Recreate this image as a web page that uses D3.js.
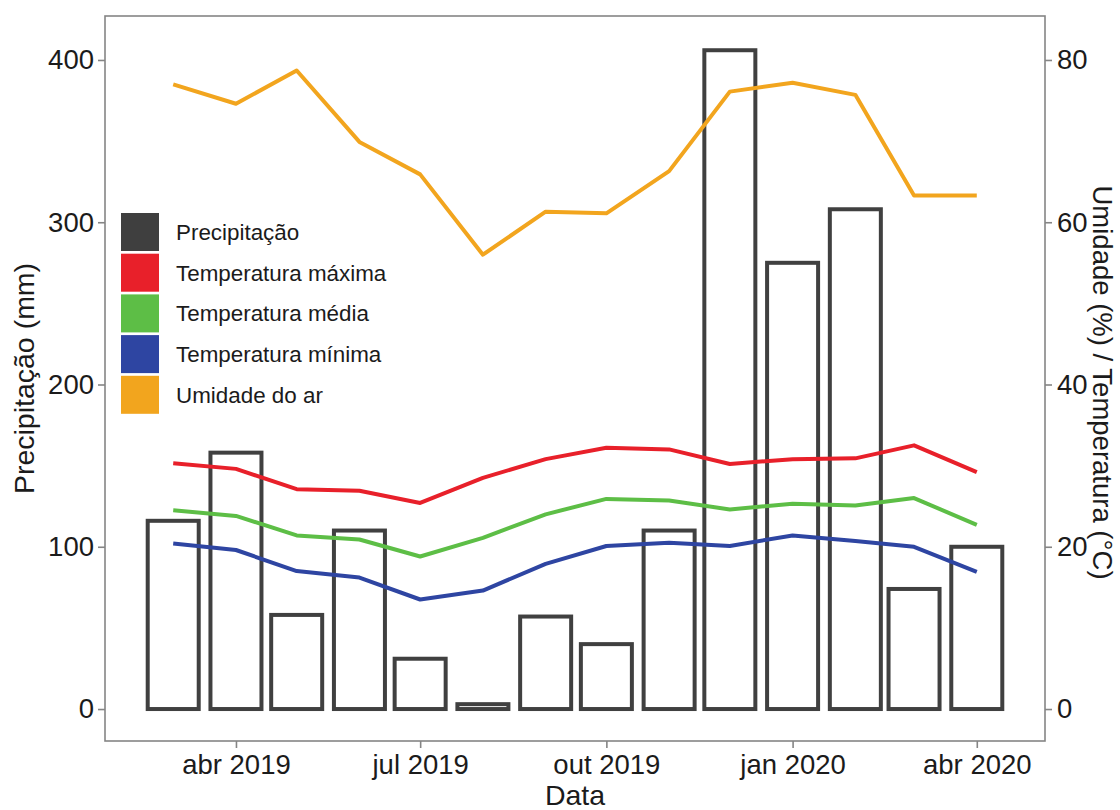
<!DOCTYPE html>
<html>
<head>
<meta charset="utf-8">
<script src="https://cdn.jsdelivr.net/npm/d3@7/dist/d3.min.js"></script>
<style>
  html, body { margin: 0; padding: 0; background: #fff; }
  svg { display: block; font-family: "Liberation Sans", Arial, Helvetica, sans-serif; }
</style>
</head>
<body>
<svg id="chart" width="1120" height="810"></svg>
<script>
// Monthly series, March 2019 – April 2020
const months = ["2019-03","2019-04","2019-05","2019-06","2019-07","2019-08","2019-09",
                "2019-10","2019-11","2019-12","2020-01","2020-02","2020-03","2020-04"];
// Precipitation (mm), left axis
const precipitacao = [116, 158, 58, 110, 31, 3, 57, 40, 110, 406, 275, 308, 74, 100];
// Temperatures (°C) and relative humidity (%), right axis
const tempMax = [30.3, 29.6, 27.1, 26.9, 25.4, 28.5, 30.8, 32.2, 32.0, 30.2, 30.8, 30.9, 32.5, 29.2];
const tempMed = [24.5, 23.8, 21.4, 20.9, 18.8, 21.1, 24.0, 25.9, 25.7, 24.6, 25.3, 25.1, 26.0, 22.7];
const tempMin = [20.4, 19.6, 17.0, 16.2, 13.5, 14.6, 17.9, 20.1, 20.5, 20.1, 21.4, 20.7, 20.0, 16.9];
const umidade = [77.0, 74.6, 78.7, 69.9, 65.9, 56.0, 61.3, 61.1, 66.3, 76.1, 77.2, 75.7, 63.3, 63.3];

// Axis ticks
const xTickDates  = ["2019-04", "2019-07", "2019-10", "2020-01", "2020-04"];
const xTickLabels = ["abr 2019", "jul 2019", "out 2019", "jan 2020", "abr 2020"];
const yLeftTicks  = [0, 100, 200, 300, 400];
const yRightTicks = [0, 20, 40, 60, 80];

// Legend entries
const legendLabels = ["Precipitação", "Temperatura máxima", "Temperatura média", "Temperatura mínima", "Umidade do ar"];
const legendColors = ["#3f3f3f", "#E8202A", "#5DBE46", "#2E45A2", "#F2A51E"];

const parse = d3.utcParse("%Y-%m");
const dates = months.map(parse);
const DAY = 864e5;
const barWidthDays = 25.2;      // 0.9 × the shortest month gap
const padDays = 33.7;           // panel expansion beyond the first/last month
const secondaryFactor = 5;      // right axis = left axis / 5

const svg = d3.select("#chart");
const panel = { left: 105, right: 1045, top: 16, bottom: 741 };

const x = d3.scaleUtc()
  .domain([new Date(dates[0].getTime() - padDays * DAY),
           new Date(dates[dates.length - 1].getTime() + padDays * DAY)])
  .range([panel.left, panel.right]);

const y = d3.scaleLinear().domain([-19.7, 427.1]).range([panel.bottom, panel.top]);
const yR = d3.scaleLinear()
  .domain(y.domain().map(v => v / secondaryFactor))
  .range(y.range());

const axisColor = "#858585";
const textColor = "#1b1b1b";
const tickFont = "27.5px";
const titleFont = "28.5px";
const legendFont = "22.4px";

// Bars
const halfBar = barWidthDays * DAY / 2;
svg.append("g").selectAll("rect")
  .data(dates.map((d, i) => ({ d, v: precipitacao[i] })))
  .join("rect")
  .attr("x", p => x(new Date(p.d.getTime() - halfBar)))
  .attr("width", p => x(new Date(p.d.getTime() + halfBar)) - x(new Date(p.d.getTime() - halfBar)))
  .attr("y", p => y(p.v))
  .attr("height", p => y(0) - y(p.v))
  .attr("fill", "#fff")
  .attr("stroke", "#404040")
  .attr("stroke-width", 4);

// Lines on the secondary axis
const line = d3.line().x(p => x(p.d)).y(p => yR(p.v));
const series = [
  { values: umidade, color: legendColors[4] },
  { values: tempMax, color: legendColors[1] },
  { values: tempMed, color: legendColors[2] },
  { values: tempMin, color: legendColors[3] }
];
svg.append("g").selectAll("path")
  .data(series)
  .join("path")
  .attr("d", s => line(dates.map((d, i) => ({ d, v: s.values[i] }))))
  .attr("fill", "none")
  .attr("stroke", s => s.color)
  .attr("stroke-width", 4)
  .attr("stroke-linejoin", "round");

// Panel border
svg.append("rect")
  .attr("x", panel.left).attr("y", panel.top)
  .attr("width", panel.right - panel.left)
  .attr("height", panel.bottom - panel.top)
  .attr("fill", "none")
  .attr("stroke", axisColor)
  .attr("stroke-width", 1.6);

function styleAxis(g) {
  g.select(".domain").remove();
  g.selectAll(".tick line").attr("stroke", axisColor).attr("stroke-width", 1.6);
  g.selectAll(".tick text")
    .attr("fill", textColor)
    .style("font-size", tickFont)
    .style("font-family", "'Liberation Sans', Arial, sans-serif");
}

// Bottom axis
svg.append("g")
  .attr("transform", `translate(0,${panel.bottom})`)
  .call(d3.axisBottom(x)
    .tickValues(xTickDates.map(parse))
    .tickFormat((d, i) => xTickLabels[i])
    .tickSize(7).tickPadding(6))
  .call(styleAxis);

// Left axis
svg.append("g")
  .attr("transform", `translate(${panel.left},0)`)
  .call(d3.axisLeft(y).tickValues(yLeftTicks).tickSize(7).tickPadding(4))
  .call(styleAxis);

// Right axis
svg.append("g")
  .attr("transform", `translate(${panel.right},0)`)
  .call(d3.axisRight(yR).tickValues(yRightTicks).tickSize(7).tickPadding(5))
  .call(styleAxis);

// Axis titles
svg.append("text")
  .attr("x", (panel.left + panel.right) / 2).attr("y", 805)
  .attr("text-anchor", "middle")
  .attr("fill", textColor)
  .style("font-size", titleFont)
  .text("Data");

svg.append("text")
  .attr("transform", `translate(34,${(panel.top + panel.bottom) / 2}) rotate(-90)`)
  .attr("text-anchor", "middle")
  .attr("fill", textColor)
  .style("font-size", titleFont)
  .text("Precipitação (mm)");

svg.append("text")
  .attr("transform", `translate(1093,${(panel.top + panel.bottom) / 2 + 4}) rotate(90)`)
  .attr("text-anchor", "middle")
  .attr("fill", textColor)
  .style("font-size", "27.5px")
  .text("Umidade (%) / Temperatura (°C)");

// Legend
const legend = svg.append("g").attr("transform", "translate(121,213)");
const rowH = 40.7, keySize = 38;
const rows = legend.selectAll("g")
  .data(legendLabels.map((l, i) => ({ l, c: legendColors[i] })))
  .join("g")
  .attr("transform", (d, i) => `translate(0,${i * rowH})`);
rows.append("rect")
  .attr("width", keySize).attr("height", keySize)
  .attr("fill", d => d.c);
rows.append("text")
  .attr("x", 55).attr("y", keySize / 2)
  .attr("dy", "0.36em")
  .attr("fill", textColor)
  .style("font-size", legendFont)
  .text(d => d.l);
</script>
</body>
</html>
